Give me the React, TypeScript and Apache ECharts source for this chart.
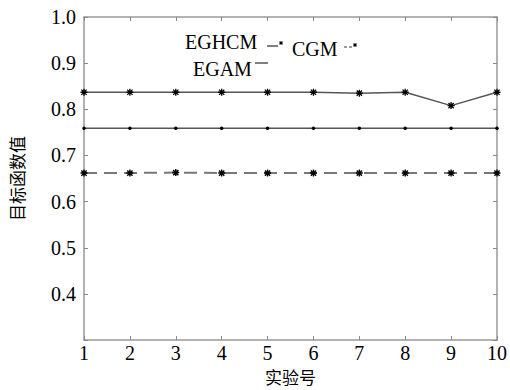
import React, { useEffect, useRef } from "react";
import * as echarts from "echarts";

const experiments = [1, 2, 3, 4, 5, 6, 7, 8, 9, 10];
const eghcmValues = [0.837, 0.837, 0.837, 0.837, 0.837, 0.837, 0.835, 0.837, 0.808, 0.837];
const egamValues = [0.759, 0.759, 0.759, 0.759, 0.759, 0.759, 0.759, 0.759, 0.759, 0.759];
const cgmValues = [0.662, 0.662, 0.663, 0.662, 0.662, 0.662, 0.662, 0.662, 0.662, 0.662];
const seriesNames = ["EGHCM", "EGAM", "CGM"];
const xAxisName = "实验号";
const yAxisName = "目标函数值";

const SERIF = "Liberation Serif";
const CJK = "Noto Sans CJK SC";
const STAR = "path://M0,-4L0,4M-4,0L4,0M-3,-3L3,3M-3,3L3,-3";

function star(cx: number, cy: number, r: number) {
  const s = { stroke: "#000", lineWidth: 1 };
  return {
    type: "group",
    children: [
      { type: "line", shape: { x1: cx - r, y1: cy, x2: cx + r, y2: cy }, style: s },
      { type: "line", shape: { x1: cx, y1: cy - r, x2: cx, y2: cy + r }, style: s },
      { type: "line", shape: { x1: cx - r * 0.7, y1: cy - r * 0.7, x2: cx + r * 0.7, y2: cy + r * 0.7 }, style: s },
      { type: "line", shape: { x1: cx - r * 0.7, y1: cy + r * 0.7, x2: cx + r * 0.7, y2: cy - r * 0.7 }, style: s },
    ],
  };
}

export default function App() {
  const ref = useRef<HTMLDivElement>(null);
  useEffect(() => {
    if (!ref.current) return;
    const chart = echarts.init(ref.current, null, { renderer: "svg" });
    const axisLine = { lineStyle: { color: "#999", width: 1.5 } };
    const axisTick = { inside: true, length: 4, lineStyle: { color: "#888", width: 1 } };
    chart.setOption({
      animation: false,
      backgroundColor: "#fff",
      grid: { left: 83, right: 10, top: 17, bottom: 43 },
      xAxis: [
        {
          type: "value",
          min: 1,
          max: 10,
          interval: 1,
          position: "bottom",
          name: xAxisName,
          nameLocation: "middle",
          nameGap: 22,
          nameTextStyle: { fontFamily: CJK, fontSize: 17, color: "#000" },
          axisLine,
          axisTick,
          splitLine: { show: false },
          axisLabel: { fontFamily: SERIF, fontSize: 20, color: "#000", margin: 3 },
        },
        {
          type: "value",
          min: 1,
          max: 10,
          interval: 1,
          position: "top",
          axisLine,
          axisTick,
          splitLine: { show: false },
          axisLabel: { show: false },
        },
      ],
      yAxis: [
        {
          type: "value",
          min: 0.3,
          max: 1.0,
          interval: 0.1,
          position: "left",
          name: yAxisName,
          nameLocation: "middle",
          nameRotate: 90,
          nameGap: 59,
          nameTextStyle: { fontFamily: CJK, fontSize: 17, color: "#000" },
          axisLine: { show: true, ...axisLine },
          axisTick: { show: true, ...axisTick },
          splitLine: { show: false },
          axisLabel: {
            fontFamily: SERIF,
            fontSize: 20,
            color: "#000",
            margin: 8,
            formatter: (v: number) => (v < 0.35 ? "" : v.toFixed(1)),
          },
        },
        {
          type: "value",
          min: 0.3,
          max: 1.0,
          interval: 0.1,
          position: "right",
          axisLine: { show: true, ...axisLine },
          axisTick: { show: true, ...axisTick },
          splitLine: { show: false },
          axisLabel: { show: false },
        },
      ],
      series: [
        {
          name: seriesNames[0],
          type: "line",
          data: experiments.map((x, i) => [x, eghcmValues[i]]),
          lineStyle: { color: "#555", width: 1.5 },
          symbol: STAR,
          symbolSize: 7,
          itemStyle: { color: "#000", borderColor: "#000", borderWidth: 1.3 },
          z: 3,
        },
        {
          name: seriesNames[1],
          type: "line",
          data: experiments.map((x, i) => [x, egamValues[i]]),
          lineStyle: { color: "#555", width: 1.5 },
          symbol: "circle",
          symbolSize: 3.5,
          itemStyle: { color: "#000" },
          z: 3,
        },
        {
          name: seriesNames[2],
          type: "line",
          data: experiments.map((x, i) => [x, cgmValues[i]]),
          lineStyle: { color: "#777", width: 2, type: [13, 7] },
          symbol: STAR,
          symbolSize: 7,
          itemStyle: { color: "#000", borderColor: "#000", borderWidth: 1.4 },
          z: 3,
        },
      ],
      graphic: [
        {
          type: "text",
          x: 185,
          y: 42,
          style: { text: seriesNames[0], font: "20px Liberation Serif", fill: "#000", textVerticalAlign: "middle" },
        },
        { type: "line", shape: { x1: 267, y1: 46, x2: 278, y2: 46 }, style: { stroke: "#555", lineWidth: 1.5 } },
        star(281, 43, 2),
        {
          type: "text",
          x: 292,
          y: 48.5,
          style: { text: seriesNames[2], font: "20px Liberation Serif", fill: "#000", textVerticalAlign: "middle" },
        },
        { type: "line", shape: { x1: 344, y1: 47, x2: 347, y2: 47 }, style: { stroke: "#777", lineWidth: 1.5 } },
        { type: "line", shape: { x1: 349, y1: 47, x2: 352, y2: 47 }, style: { stroke: "#777", lineWidth: 1.5 } },
        star(355, 45, 2),
        {
          type: "text",
          x: 193,
          y: 69,
          style: { text: seriesNames[1], font: "20px Liberation Serif", fill: "#000", textVerticalAlign: "middle" },
        },
        { type: "line", shape: { x1: 255, y1: 63, x2: 268, y2: 63 }, style: { stroke: "#555", lineWidth: 1.5 } },
      ],
    });
    return () => chart.dispose();
  }, []);
  return (
    <div
      ref={ref}
      style={{ position: "absolute", left: 0, top: 0, width: 510, height: 390, background: "#fff" }}
    />
  );
}
